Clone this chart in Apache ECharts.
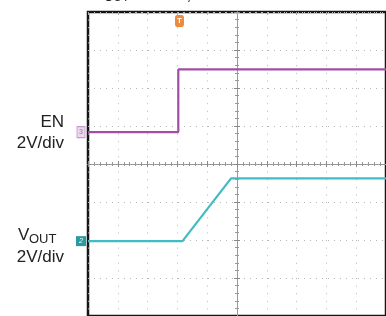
<!DOCTYPE html>
<html>
<head>
<meta charset="utf-8">
<script src="https://cdn.jsdelivr.net/npm/echarts@6/dist/echarts.min.js"></script>
<style>
  html, body { margin: 0; padding: 0; background: #fff; }
  #scope { width: 386px; height: 316px; }
</style>
</head>
<body>
<div id="scope"></div>
<script>
// all values in screen divisions: x -5..5, y -4..4 (centre = 0,0)
const enTime = [-5, -1.97, -1.97, 5]
const enLevel = [0.84, 0.84, 2.49, 2.49]
const voutTime = [-5, -1.83, -0.2, 5]
const voutLevel = [-2.03, -2.03, -0.38, -0.38]
const triggerTime = -1.93
const enRefLevel = 0.84
const voutRefLevel = -2.03

const purple = '#a04ea6'
const cyan = '#3fbcc4'
const gridDot = '#b8b8b8'

function pairs(xs, ys) {
    return xs.map((x, i) => [x, ys[i]])
}

// dotted split line, dash roughly one dot per minor division
function splitStyle(gap) {
    return { show: true, lineStyle: { color: gridDot, width: 1, type: [1, gap] } }
}

// centre axis with minor ticks, used twice so ticks cross the line
function centreX(position) {
    return {
        type: 'value', min: -5, max: 5, interval: 1, position,
        axisLine: { show: true, onZero: true, lineStyle: { color: '#999', width: 1 } },
        axisTick: { show: true, length: 3, lineStyle: { color: '#888' } },
        minorTick: { show: true, splitNumber: 5, length: 2, lineStyle: { color: '#999' } },
        axisLabel: { show: false },
        splitLine: { show: false }
    }
}
function centreY(position) {
    return {
        type: 'value', min: -4, max: 4, interval: 1, position,
        axisLine: { show: true, onZero: true, lineStyle: { color: '#999', width: 1 } },
        axisTick: { show: true, length: 3, lineStyle: { color: '#888' } },
        minorTick: { show: true, splitNumber: 5, length: 2, lineStyle: { color: '#999' } },
        axisLabel: { show: false },
        splitLine: { show: false }
    }
}

let xMain = centreX('bottom')
xMain.splitLine = splitStyle(5)
xMain.splitLine.lineStyle.type = [1, 6.6]
let yMain = centreY('left')
yMain.splitLine = splitStyle(5)

let chart = echarts.init(document.getElementById('scope'), null, { renderer: 'canvas' })

let option = {
    animation: false,
    backgroundColor: '#fff',
    grid: {
        left: 88, top: 12, width: 300, height: 307,
        show: true, borderColor: '#151515', borderWidth: 2.5, backgroundColor: 'transparent'
    },
    xAxis: [
        xMain,
        centreX('top'),
        {
            type: 'value', min: -5, max: 5, interval: 1, position: 'top',
            axisLine: { show: false, onZero: false },
            axisTick: { show: true, inside: true, length: 3, lineStyle: { color: '#aaa' } },
            minorTick: { show: true, splitNumber: 5, length: 2, lineStyle: { color: '#bbb' } },
            axisLabel: { show: false }, splitLine: { show: false }
        }
    ],
    yAxis: [
        yMain,
        centreY('right'),
        {
            type: 'value', min: -4, max: 4, interval: 1, position: 'left',
            axisLine: { show: false, onZero: false },
            axisTick: { show: false },
            minorTick: { show: false },
            axisLabel: { show: false }, splitLine: { show: false }
        }
    ],
    graphic: [
        // header line, mostly above the picture
        {
            type: 'group', left: 93, top: -13,
            children: [
                { type: 'text', x: 0, y: 0, style: { text: 'V', font: '17px "Liberation Sans", Arial', fill: '#222' } },
                { type: 'text', x: 11, y: 5, style: { text: 'OUT', font: '12px "Liberation Sans", Arial', fill: '#222' } },
                { type: 'text', x: 36, y: 0, style: { text: ' = 1.8 V,', font: '17px "Liberation Sans", Arial', fill: '#222' } }
            ]
        },
        {
            type: 'text', right: 322, top: 114,
            style: { text: 'EN', font: '17px "Liberation Sans", Arial', fill: '#222', align: 'right' }
        },
        {
            type: 'text', right: 322, top: 135,
            style: { text: '2V/div', font: '17px "Liberation Sans", Arial', fill: '#222', align: 'right' }
        },
        {
            type: 'group', left: 18, top: 227,
            children: [
                { type: 'text', x: 0, y: 0, style: { text: 'V', font: '17px "Liberation Sans", Arial', fill: '#222' } },
                { type: 'text', x: 11, y: 6, style: { text: 'OUT', font: '13px "Liberation Sans", Arial', fill: '#222' } }
            ]
        },
        {
            type: 'text', right: 322, top: 249,
            style: { text: '2V/div', font: '17px "Liberation Sans", Arial', fill: '#222', align: 'right' }
        }
    ],
    series: [
        {
            name: 'EN', type: 'line', xAxisIndex: 0, yAxisIndex: 0,
            data: pairs(enTime, enLevel),
            symbol: 'none',
            lineStyle: { color: purple, width: 2.2 },
            markPoint: {
                data: [
                    // channel reference marker
                    {
                        coord: [-5, enRefLevel], symbol: 'rect', symbolSize: [8, 11], symbolOffset: [-7, 0],
                        itemStyle: { color: '#ecd9ee', borderColor: '#c59bc9', borderWidth: 1 },
                        label: { show: true, formatter: '3', fontSize: 7, color: '#a070a8' }
                    },
                    // trigger marker
                    {
                        coord: [triggerTime, 4], symbol: 'roundRect', symbolSize: [9, 12], symbolOffset: [0, 9],
                        itemStyle: { color: '#ee8a3c' },
                        label: { show: true, formatter: 'T', fontSize: 8, color: '#fff', fontWeight: 'bold' }
                    }
                ]
            }
        },
        {
            name: 'VOUT', type: 'line', xAxisIndex: 0, yAxisIndex: 0,
            data: pairs(voutTime, voutLevel),
            symbol: 'none',
            lineStyle: { color: cyan, width: 2.2 },
            markPoint: {
                data: [
                    {
                        coord: [-5, voutRefLevel], symbol: 'rect', symbolSize: [10, 10], symbolOffset: [-7, 0],
                        itemStyle: { color: '#2a9a9f' },
                        label: { show: true, formatter: '2', fontSize: 7, color: '#fff', fontStyle: 'italic' }
                    }
                ]
            }
        }
    ]
}

chart.setOption(option, true)
</script>
</body>
</html>
